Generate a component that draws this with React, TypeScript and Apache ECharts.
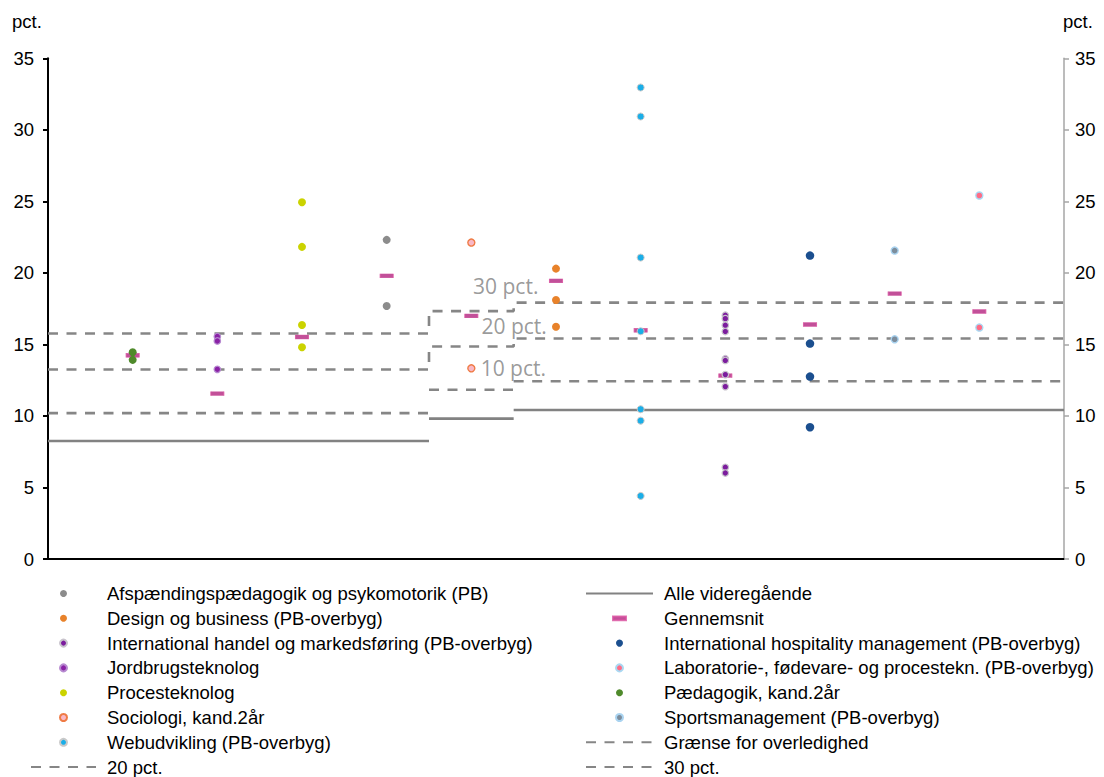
import React, { useEffect, useRef } from 'react';
import * as echarts from 'echarts';

// Programmes in column order (x = 1..11)
const programs = [
  'Pædagogik, kand.2år',
  'Jordbrugsteknolog',
  'Procesteknolog',
  'Afspændingspædagogik og psykomotorik (PB)',
  'Sociologi, kand.2år',
  'Design og business (PB-overbyg)',
  'Webudvikling (PB-overbyg)',
  'International handel og markedsføring (PB-overbyg)',
  'International hospitality management (PB-overbyg)',
  'Sportsmanagement (PB-overbyg)',
  'Laboratorie-, fødevare- og procestekn. (PB-overbyg)',
];

const paedagogik = [14.45, 13.92];
const jordbrug = [15.55, 15.24, 13.26];
const proces = [24.94, 21.82, 16.36, 14.8];
const afspaending = [22.31, 17.69];
const sociologi = [22.12, 13.33];
const design = [20.3, 18.11, 16.24];
const webudvikling = [32.96, 30.93, 21.07, 15.92, 10.47, 9.67, 4.41];
const intHandel = [17.04, 16.8, 16.34, 15.9, 14.0, 13.88, 12.89, 12.05, 6.41, 6.01];
const hospitality = [21.21, 15.06, 12.75, 9.21];
const sports = [21.56, 15.36];
const laboratorie = [25.41, 16.18];

const gennemsnit = [14.24, 11.56, 15.52, 19.79, 16.99, 19.44, 15.99, 12.82, 16.39, 18.55, 17.3];

// Step reference lines: segment breaks on the x scale, one value per segment
const stepBreaks = [0, 4.5, 5.5, 12];
const alleVideregaaende = [8.25, 9.81, 10.42];
const graense10 = [10.2, 11.83, 12.43];
const pct20 = [13.25, 14.85, 15.41];
const pct30 = [15.76, 17.33, 17.92];

// In-plot annotation labels
const annotationLabels = ['30 pct.', '20 pct.', '10 pct.'];
const annotationX = [5.02, 5.12, 5.11];
const annotationY = [19.1, 16.29, 13.36];

const yTicks = { min: 0, max: 35, interval: 5 };

const FONT = 'Liberation Sans, Arial, sans-serif';

function stepData(vals: number[], connect: boolean) {
  const out: any[] = [];
  for (let i = 0; i < vals.length; i++) {
    if (i > 0 && !connect) out.push([stepBreaks[i], '-']);
    out.push([stepBreaks[i], vals[i]]);
    out.push([stepBreaks[i + 1], vals[i]]);
  }
  return out;
}

function dots(name: string, vals: number[], color: string, size: number, borderColor?: string, borderWidth = 0) {
  const x = programs.indexOf(name) + 1;
  return {
    type: 'scatter',
    name,
    data: vals.map((v) => [x, v]),
    symbol: 'circle',
    symbolSize: size,
    itemStyle: { color, borderColor: borderColor || color, borderWidth, opacity: 1 },
    z: 5,
  };
}

function line(name: string, vals: number[], dashed: boolean, connect: boolean) {
  return {
    type: 'line',
    name,
    data: stepData(vals, connect),
    symbol: 'none',
    showSymbol: false,
    connectNulls: false,
    lineStyle: {
      color: dashed ? '#868686' : '#828282',
      width: 2.6,
      type: dashed ? [10, 8.5] : 'solid',
      cap: 'butt',
    },
    itemStyle: { color: dashed ? '#868686' : '#828282' },
    z: 2,
    silent: true,
  };
}

const noDot = { itemStyle: { opacity: 0, color: 'transparent', borderWidth: 0 } };

export default function App() {
  const ref = useRef<HTMLDivElement>(null);

  useEffect(() => {
    if (!ref.current) return;
    const chart = echarts.init(ref.current, undefined, { renderer: 'svg' });

    const meanIcon = 'path://M0,0M67,7M27,1.6h13v3.8h-13z';

    const legendCommon = {
      orient: 'vertical',
      top: 583.5,
      height: 215,
      itemHeight: 7,
      itemGap: 4.8,
      padding: 0,
      selectedMode: false,
      textStyle: { fontSize: 18.5, fontFamily: FONT, color: '#000', lineHeight: 20, padding: [0, 0, 0, 6] },
    };

    const option: any = {
      animation: false,
      backgroundColor: '#fff',
      textStyle: { fontFamily: FONT },
      grid: { left: 48, right: 40, top: 58.3, bottom: 218, containLabel: false },
      xAxis: {
        type: 'value',
        min: 0,
        max: 12,
        axisLine: { show: true, onZero: false, lineStyle: { color: '#000', width: 2 } },
        axisTick: { show: false },
        axisLabel: { show: false },
        splitLine: { show: false },
      },
      yAxis: [
        {
          type: 'value',
          position: 'left',
          ...yTicks,
          axisLine: { show: true, onZero: false, lineStyle: { color: '#000', width: 2 } },
          axisTick: { show: true, inside: false, length: 5, lineStyle: { color: '#000', width: 2 } },
          axisLabel: { fontSize: 18.5, fontFamily: FONT, color: '#000', margin: 14 },
          splitLine: { show: false },
        },
        {
          type: 'value',
          position: 'right',
          ...yTicks,
          axisLine: { show: true, onZero: false, lineStyle: { color: '#a6a6a6', width: 1.5 } },
          axisTick: { show: true, inside: false, length: 5, lineStyle: { color: '#a6a6a6', width: 1.5 } },
          axisLabel: { fontSize: 18.5, fontFamily: FONT, color: '#000', margin: 11 },
          splitLine: { show: false },
        },
      ],
      legend: [
        {
          ...legendCommon,
          left: 30,
          itemWidth: 65,
          data: [
            'Afspændingspædagogik og psykomotorik (PB)',
            'Design og business (PB-overbyg)',
            'International handel og markedsføring (PB-overbyg)',
            'Jordbrugsteknolog',
            'Procesteknolog',
            'Sociologi, kand.2år',
            'Webudvikling (PB-overbyg)',
            { name: '20 pct.', ...noDot },
          ],
        },
        {
          ...legendCommon,
          left: 585,
          itemWidth: 67,
          data: [
            { name: 'Alle videregående', ...noDot },
            { name: 'Gennemsnit', icon: meanIcon },
            'International hospitality management (PB-overbyg)',
            'Laboratorie-, fødevare- og procestekn. (PB-overbyg)',
            'Pædagogik, kand.2år',
            'Sportsmanagement (PB-overbyg)',
            { name: 'Grænse for overledighed', ...noDot },
            { name: '30 pct.', ...noDot },
          ],
        },
      ],
      graphic: [
        { type: 'text', left: 12, top: 12, style: { text: 'pct.', font: `18.5px ${FONT}`, fill: '#000' } },
        { type: 'text', left: 1063, top: 12, style: { text: 'pct.', font: `18.5px ${FONT}`, fill: '#000' } },
      ],
      series: [
        line('Alle videregående', alleVideregaaende, false, false),
        line('Grænse for overledighed', graense10, true, false),
        line('20 pct.', pct20, true, true),
        line('30 pct.', pct30, true, true),
        {
          type: 'scatter',
          name: 'Gennemsnit',
          data: gennemsnit.map((v, i) => [i + 1, v]),
          symbol: 'rect',
          symbolSize: [13, 4],
          itemStyle: { color: '#b3247f', borderColor: '#d9509f', borderWidth: 0.6 },
          z: 4,
        },
        dots('Pædagogik, kand.2år', paedagogik, '#4f8a2b', 8),
        dots('Jordbrugsteknolog', jordbrug, '#8a22a6', 6.5, '#b78ad0', 1.2),
        dots('Procesteknolog', proces, '#cbd300', 8),
        dots('Afspændingspædagogik og psykomotorik (PB)', afspaending, '#8c8c8c', 8),
        dots('Sociologi, kand.2år', sociologi, '#f9b8c6', 7, '#ef7b45', 1.4),
        dots('Design og business (PB-overbyg)', design, '#e8822a', 8),
        dots('Webudvikling (PB-overbyg)', webudvikling, '#1aaee8', 7, '#c9c9c9', 1),
        dots('International handel og markedsføring (PB-overbyg)', intHandel, '#7c1d9e', 6.5, '#c8c3cc', 1.2),
        dots('International hospitality management (PB-overbyg)', hospitality, '#1b4f8f', 8.5),
        dots('Sportsmanagement (PB-overbyg)', sports, '#7d8d9c', 7, '#a9d3f0', 1.4),
        dots('Laboratorie-, fødevare- og procestekn. (PB-overbyg)', laboratorie, '#ff6c86', 7, '#a9d8f2', 1.4),
        {
          type: 'scatter',
          name: 'annotations',
          silent: true,
          symbolSize: 0,
          data: annotationLabels.map((t, i) => ({ name: t, value: [annotationX[i], annotationY[i]] })),
          label: {
            show: true,
            position: 'right',
            distance: 0,
            formatter: (p: any) => p.name,
            fontFamily: 'Open Sans, Noto Sans, sans-serif',
            fontSize: 21,
            color: '#7f7f7f',
          },
          z: 6,
        },
      ],
    };

    chart.setOption(option);
    return () => chart.dispose();
  }, []);

  return (
    <div
      ref={ref}
      style={{ position: 'fixed', left: 0, top: 0, width: 1104, height: 777, background: '#fff' }}
    />
  );
}
